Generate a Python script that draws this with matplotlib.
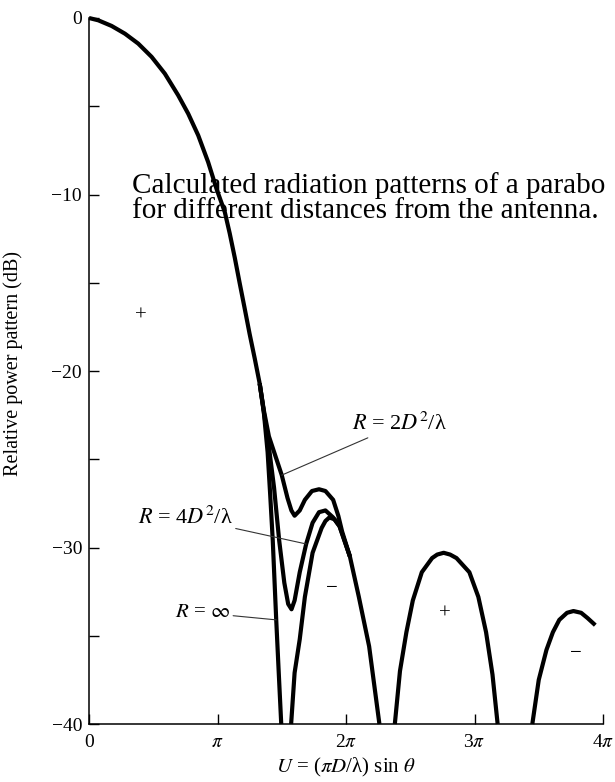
import numpy as np
import matplotlib
matplotlib.use("Agg")
import matplotlib.pyplot as plt
from matplotlib.ticker import MultipleLocator

plt.rcParams['font.family'] = ['Liberation Serif', 'DejaVu Serif']
plt.rcParams['mathtext.fontset'] = 'stix'

# U in units of pi, relative power in dB
main_u = [0.0, 0.072, 0.176, 0.28, 0.383, 0.487, 0.59, 0.694, 0.772, 0.85, 0.927, 0.992,
          1.057, 1.095, 1.135, 1.172, 1.21, 1.25, 1.29, 1.328]
main_db = [0.0, -0.13, -0.45, -0.89, -1.45, -2.2, -3.15, -4.38, -5.42, -6.65, -8.16, -9.67,
           -11.0, -12.2, -13.6, -15.0, -16.4, -17.9, -19.3, -20.7]

# R = infinity: rest of main lobe, then first sidelobe
inf_main_u = [1.328, 1.36, 1.39, 1.41, 1.43, 1.457, 1.476, 1.496]
inf_main_db = [-20.7, -22.3, -24.6, -27.0, -29.6, -34.1, -37.0, -40.0]
inf_side_u = [1.573, 1.60, 1.64, 1.68, 1.74, 1.81, 1.84, 1.87, 1.91, 1.95, 2.03, 2.10, 2.18, 2.26]
inf_side_db = [-40.0, -37.1, -35.2, -32.8, -30.3, -28.9, -28.5, -28.3, -28.4, -28.8, -30.5,
               -32.8, -35.6, -40.0]

# R = 4D^2/lambda, until it joins the R = infinity curve
r4_u = [1.328, 1.36, 1.40, 1.44, 1.48, 1.52, 1.55, 1.576, 1.60, 1.64, 1.69, 1.74, 1.79,
        1.84, 1.90, 1.95, 2.03]
r4_db = [-20.7, -22.3, -24.3, -26.6, -29.6, -32.0, -33.2, -33.5, -33.0, -31.4, -29.8, -28.6,
         -28.0, -27.9, -28.3, -28.8, -30.5]

# R = 2D^2/lambda
r2_u = [1.328, 1.36, 1.40, 1.45, 1.50, 1.545, 1.575, 1.60, 1.64, 1.68, 1.735, 1.79, 1.84,
        1.90, 1.94, 1.97, 2.03]
r2_db = [-20.7, -22.2, -23.7, -24.8, -25.9, -27.2, -27.9, -28.2, -27.9, -27.3, -26.8, -26.7,
         -26.8, -27.3, -28.2, -29.1, -30.5]

# further sidelobes (all three curves coincide)
lobe2_u = [2.38, 2.42, 2.47, 2.52, 2.59, 2.67, 2.71, 2.76, 2.81, 2.86, 2.96, 3.03, 3.09, 3.14, 3.18]
lobe2_db = [-40.0, -37.0, -34.8, -33.0, -31.4, -30.6, -30.4, -30.3, -30.4, -30.6, -31.4, -32.8,
            -34.8, -37.2, -40.0]
lobe3_u = [3.45, 3.50, 3.56, 3.61, 3.66, 3.72, 3.77, 3.83, 3.88, 3.94]
lobe3_db = [-40.0, -37.5, -35.8, -34.8, -34.1, -33.7, -33.6, -33.7, -34.0, -34.4]

x_ticks = [0, 1, 2, 3, 4]
x_labels = ['0', r'$\pi$', r'2$\pi$', r'3$\pi$', r'4$\pi$']
y_ticks = [0, -10, -20, -30, -40]
y_labels = ['0', '\u221210', '\u221220', '\u221230', '\u221240']

fig = plt.figure(figsize=(6.15, 7.82), dpi=100)
ax = fig.add_axes([89 / 615, 58 / 782, 514 / 615, 706 / 782])

lw = 3.0
style = dict(color='black', lw=lw, solid_capstyle='butt', solid_joinstyle='round', clip_on=False)

def pi_x(u):
    return np.array(u) * np.pi

ax.plot(pi_x(main_u), main_db, **style)
ax.plot(pi_x(inf_main_u), inf_main_db, **style)
ax.plot(pi_x(inf_side_u), inf_side_db, **style)
ax.plot(pi_x(r4_u), r4_db, **style)
ax.plot(pi_x(r2_u), r2_db, **style)
ax.plot(pi_x(lobe2_u), lobe2_db, **style)
ax.plot(pi_x(lobe3_u), lobe3_db, **style)

ax.set_xlim(0, 4 * np.pi)
ax.set_ylim(-40, 0)

ax.spines['top'].set_visible(False)
ax.spines['right'].set_visible(False)
ax.spines['left'].set_linewidth(1.1)
ax.spines['bottom'].set_linewidth(1.1)

ax.set_xticks(pi_x(x_ticks))
ax.set_xticklabels(x_labels, fontsize=14)
ax.set_yticks(y_ticks)
ax.set_yticklabels(y_labels, fontsize=14)
ax.yaxis.set_minor_locator(MultipleLocator(5))
ax.tick_params(which='both', direction='in', length=7, width=1.0)
ax.tick_params(axis='x', pad=7)
ax.tick_params(axis='y', pad=5)

ax.set_ylabel('Relative power pattern (dB)', fontsize=14.5)
ax.yaxis.set_label_coords(-0.128, 0.51)
ax.set_xlabel(r'$U$ = ($\pi D$/λ) sin $\theta$', fontsize=15)
ax.xaxis.set_label_coords(0.5, -0.045)

# curve labels with leader lines
lead = dict(arrowstyle='-', lw=0.8, color='#333333', shrinkA=0, shrinkB=0)
ax.annotate(r'$R$ = 2$D^2$/λ', xy=(1.50 * np.pi, -25.9), xytext=(2.05 * np.pi, -23.0),
            fontsize=16, va='center', ha='left', arrowprops=lead)
ax.annotate(r'$R$ = 4$D^2$/λ', xy=(1.69 * np.pi, -29.8), xytext=(1.12 * np.pi, -28.3),
            fontsize=16, va='center', ha='right', arrowprops=lead)
ax.annotate(r'$R$ = $\infty$', xy=(1.457 * np.pi, -34.1), xytext=(1.10 * np.pi, -33.7),
            fontsize=15, va='center', ha='right', arrowprops=lead)

# signs of the lobes
ax.text(0.40 * np.pi, -16.9, '+', fontsize=15, ha='center', va='center')
ax.text(1.89 * np.pi, -32.3, '\u2212', fontsize=15, ha='center', va='center')
ax.text(2.77 * np.pi, -33.8, '+', fontsize=15, ha='center', va='center')
ax.text(3.79 * np.pi, -36.0, '\u2212', fontsize=15, ha='center', va='center')

fig.text(132 / 615, 1 - 193 / 782, 'Calculated radiation patterns of a parabo',
         fontsize=21, va='baseline', ha='left')
fig.text(132 / 615, 1 - 218 / 782, 'for different distances from the antenna.',
         fontsize=21, va='baseline', ha='left')

plt.savefig('out.png', dpi=100)
